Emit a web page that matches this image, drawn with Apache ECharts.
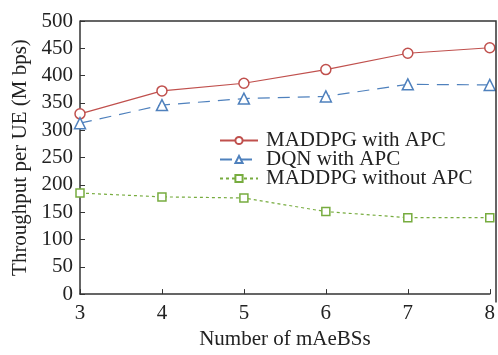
<!DOCTYPE html>
<html><head><meta charset="utf-8">
<script src="https://cdn.jsdelivr.net/npm/echarts@6/dist/echarts.min.js"></script>
<style>html,body{margin:0;padding:0;background:#fff}#c{width:498px;height:355px}</style>
</head><body><div id="c"></div>
<script>
const categories = [3, 4, 5, 6, 7, 8];
const maddpgAPC = [330, 372, 386, 411, 441, 451];
const dqnAPC = [313, 346, 358, 362, 384, 383];
const maddpgNoAPC = [185, 178, 176, 151, 140, 140];
const yTicks = [0, 50, 100, 150, 200, 250, 300, 350, 400, 450, 500];
const seriesNames = ['MADDPG with APC', 'DQN with APC', 'MADDPG without APC'];

const font = 'Liberation Serif';
const chart = echarts.init(document.getElementById('c'), null, {renderer: 'canvas'});
function mk(name, data, color, symbol, size, type, width) {
  return {
    name, type: 'line', data: data.map((v, i) => [categories[i], v]),
    symbol, symbolSize: size, showSymbol: true,
    itemStyle: {color: '#fff', borderColor: color, borderWidth: 1.5},
    lineStyle: {color, width, type},
    animation: false
  };
}
chart.setOption({
  backgroundColor: '#fff',
  grid: {left: 80, right: 2, top: 21, bottom: 52.5, show: false},
  legend: {
    orient: 'vertical', left: 214, top: 125, itemGap: -2,
    itemWidth: 38, itemHeight: 9,
    textStyle: {fontFamily: font, fontSize: 21, color: '#222', padding: [0, 0, 0, 3]},
    data: seriesNames
  },
  xAxis: {
    type: 'value', min: 3, max: 8, interval: 1,
    name: 'Number of mAeBSs', nameLocation: 'middle', nameGap: 33,
    nameTextStyle: {fontFamily: font, fontSize: 21, color: '#222'},
    axisLine: {show: true, lineStyle: {color: '#333', width: 1.5}},
    axisTick: {show: true, inside: true, length: 5, lineStyle: {color: '#333'}},
    axisLabel: {fontFamily: font, fontSize: 21, color: '#222', margin: 9},
    splitLine: {show: false}
  },
  yAxis: {
    type: 'value', min: 0, max: 500, interval: 50,
    name: 'Throughput per UE (M bps)', nameLocation: 'middle', nameGap: 46,
    nameTextStyle: {fontFamily: font, fontSize: 21, color: '#222'},
    axisLine: {show: true, lineStyle: {color: '#333', width: 1.5}},
    axisTick: {show: true, inside: true, length: 5, lineStyle: {color: '#333'}},
    axisLabel: {fontFamily: font, fontSize: 21, color: '#222', margin: 7,
      formatter: v => yTicks.includes(v) ? String(v) : ''},
    splitLine: {show: false}
  },
  graphic: [{
    type: 'polyline', silent: true, z: 10,
    shape: {points: [[80, 21], [496, 21], [496, 302.5]]},
    style: {stroke: '#333', lineWidth: 1.5, fill: null}
  }],
  series: [
    mk(seriesNames[0], maddpgAPC, '#c0504d', 'circle', 10, 'solid', 1.2),
    mk(seriesNames[1], dqnAPC, '#4f81bd', 'triangle', 11, [12, 8], 1.2),
    mk(seriesNames[2], maddpgNoAPC, '#77ac3f', 'rect', 8, [3, 3], 1.2)
  ]
});
</script></body></html>
